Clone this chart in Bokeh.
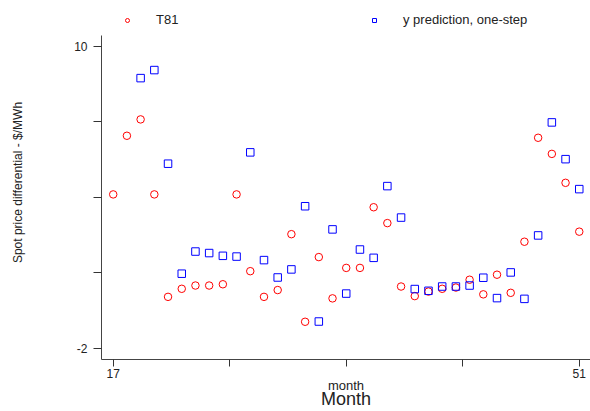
from bokeh.plotting import figure
from bokeh.models import Range1d, FixedTicker, Legend, LegendItem, LinearAxis
from bokeh.embed import file_html
from bokeh.resources import INLINE

# ---- data ----
months_t81 = list(range(17, 52))
t81 = [4.11, 6.44, 7.09, 4.11, 0.04, 0.36, 0.49, 0.49, 0.54, 4.11,
       1.06, 0.04, 0.31, 2.53, -0.95, 1.62, -0.02, 1.19, 1.19, 3.60,
       2.97, 0.45, 0.07, 0.25, 0.36, 0.41, 0.72, 0.14, 0.92, 0.20,
       2.23, 6.36, 5.72, 4.57, 2.63]
months_pred = list(range(19, 52))
pred = [8.73, 9.05, 5.33, 0.96, 1.84, 1.78, 1.67, 1.64, 5.78, 1.50,
        0.81, 1.13, 3.64, -0.94, 2.72, 0.17, 1.92, 1.59, 4.44, 3.19,
        0.35, 0.28, 0.45, 0.45, 0.49, 0.80, -0.01, 1.01, -0.04, 2.48,
        6.97, 5.51, 4.32]
x_ticks = [17, 25.5, 34, 42.5, 51]
x_tick_labels = {17: "17", 25.5: "", 34: "", 42.5: "", 51: "51"}
y_ticks = [-2, 1, 4, 7, 10]
y_tick_labels = {-2: "-2", 1: "", 4: "", 7: "", 10: "10"}

FONT = "Liberation Sans"
TXT = "#222222"

p = figure(width=590, height=411, output_backend="svg", toolbar_location=None,
           x_range=Range1d(16.146, 51.82), y_range=Range1d(-2.449, 11.615),
           min_border_left=101, min_border_top=5, min_border_bottom=52,
           min_border_right=0)
p.outline_line_color = None
p.grid.visible = False

r1 = p.scatter(months_t81, t81, marker="circle", size=7.5, fill_color=None,
               line_color="#ff0000", line_width=1)
r2 = p.scatter(months_pred, pred, marker="square", size=7.5, fill_color=None,
               line_color="#0000ff", line_width=1)

xa = p.xaxis[0]
xa.ticker = FixedTicker(ticks=x_ticks)
xa.major_label_overrides = x_tick_labels
xa.minor_tick_line_color = None
xa.major_tick_out = 7
xa.major_tick_in = 0
xa.major_label_standoff = 2
xa.major_label_text_font = FONT
xa.major_label_text_font_size = "12px"
xa.major_label_text_color = TXT
xa.axis_line_color = "#444444"
xa.major_tick_line_color = "#333333"


def label_axis(text, size, standoff, bounds):
    return LinearAxis(axis_label=text, ticker=FixedTicker(ticks=[]), bounds=bounds,
                      axis_line_color=None, major_tick_line_color=None,
                      minor_tick_line_color=None, major_tick_out=0, major_tick_in=0,
                      minor_tick_out=0, major_label_standoff=0,
                      axis_label_standoff=standoff, axis_label_text_font=FONT,
                      axis_label_text_font_size=size,
                      axis_label_text_font_style="normal",
                      axis_label_text_color=TXT)


p.add_layout(label_axis("month", "13px", -3, (30.0, 38.08)), "below")
p.add_layout(label_axis("Month", "18px", -7, (27.18, 35.18)), "below")

ya = p.yaxis[0]
ya.ticker = FixedTicker(ticks=y_ticks)
ya.bounds = (-2.449, 10.425)
ya.major_label_overrides = y_tick_labels
ya.minor_tick_line_color = None
ya.major_tick_out = 8
ya.major_tick_in = 0
ya.major_label_standoff = 6
ya.major_label_orientation = "horizontal"
ya.major_label_text_font = FONT
ya.major_label_text_font_size = "12px"
ya.major_label_text_color = TXT
ya.axis_line_color = "#444444"
ya.major_tick_line_color = "#333333"

p.add_layout(label_axis("Spot price differential - $/MWh", "12px", 47,
                        (1.597, 7.597)), "left")

legend = Legend(items=[LegendItem(label="T81", renderers=[r1]),
                       LegendItem(label="y prediction, one-step", renderers=[r2])],
                orientation="horizontal", location=(21, 332),
                glyph_width=10, glyph_height=14, label_height=14,
                label_width=200, label_standoff=24, spacing=13,
                padding=0, margin=0, border_line_color=None,
                background_fill_alpha=0,
                label_text_font=FONT, label_text_font_size="13px",
                label_text_color=TXT)
p.add_layout(legend, "center")

open("out.html", "w").write(file_html(p, INLINE))
